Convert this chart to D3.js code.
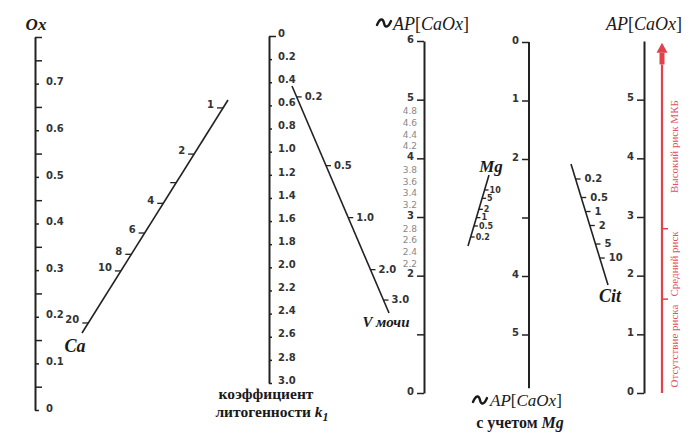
<!DOCTYPE html>
<html>
<head>
<meta charset="utf-8">
<script src="https://cdn.jsdelivr.net/npm/d3@7"></script>
<style>
body{margin:0;background:#fff;}
svg{display:block;}
</style>
</head>
<body>
<div id="nomogram"></div>
<script>
// Ox (left vertical scale)
var oxLabeled = [0, 0.1, 0.2, 0.3, 0.4, 0.5, 0.6, 0.7];
var oxMinor = [0.05, 0.15, 0.25, 0.35, 0.45, 0.55, 0.65, 0.75, 0.8];
// Ca (slanted)
var caValues = [1, 2, 3, 4, 6, 8, 10, 20];
var caLabels = ["1", "2", "", "4", "6", "8", "10", "20"];
// k1 coefficient
var k1Values = [0, 0.2, 0.4, 0.6, 0.8, 1.0, 1.2, 1.4, 1.6, 1.8, 2.0, 2.2, 2.4, 2.6, 2.8, 3.0];
// V urine (slanted)
var vValues = [0.2, 0.5, 1.0, 2.0, 3.0];
// ~AP[CaOx]
var apValues = [0, 1, 2, 3, 4, 5, 6];
var apLabels = ["0", "", "2", "3", "4", "5", "6"];
var apSubLabels = [2.2, 2.4, 2.6, 2.8, 3.2, 3.4, 3.6, 3.8, 4.2, 4.4, 4.6, 4.8];
// Mg (slanted)
var mgValues = [0.2, 0.5, 1, 2, 5, 10];
// ~AP[CaOx] with Mg
var apMgValues = [0, 1, 2, 3, 4, 5];
var apMgLabels = ["0", "1", "2", "", "4", "5"];
// Cit (slanted)
var citValues = [0.2, 0.5, 1, 2, 5, 10];
// AP[CaOx] result + risk zones
var apOutValues = [0, 1, 2, 3, 4, 5];
var riskBounds = [0, 1.6, 2.8, 5.6];
var riskNames = ["Отсутствие риска", "Средний риск", "Высокий риск МКБ"];

var ink = "#222";
var red = "#e2404a";
var sans = "DejaVu Sans, sans-serif";
var serif = "Liberation Serif, serif";

var svg = d3.select("#nomogram").append("svg")
    .attr("width", 700)
    .attr("height", 440);

function styleAxis(g){
    g.style("font-family", sans).attr("font-size", 10).attr("font-weight", "bold");
    g.select(".domain").attr("stroke", ink).attr("stroke-width", 2);
    g.selectAll(".tick line").attr("stroke", ink).attr("stroke-width", 1.5);
    g.selectAll(".tick text").attr("fill", "#333").attr("y", -2);
}

// --- Ox
var yOx = d3.scaleLinear().domain([0, 0.8]).range([410, 37]);
var gOx = svg.append("g")
    .attr("transform", "translate(35,0)")
    .call(d3.axisRight(yOx)
        .tickValues(oxLabeled.concat(oxMinor))
        .tickSize(7).tickSizeOuter(0).tickPadding(4)
        .tickFormat(function(d){ return oxLabeled.indexOf(d) >= 0 ? String(d) : ""; }));
styleAxis(gOx);
gOx.selectAll(".tick line").attr("x2", function(d){ return oxLabeled.indexOf(d) >= 0 ? 4 : 7; });

// --- k1
var yK1 = d3.scaleLinear().domain([0, 3]).range([36, 383]);
var gK1 = svg.append("g")
    .attr("transform", "translate(269,0)")
    .call(d3.axisRight(yK1)
        .tickValues(k1Values)
        .tickSize(3).tickSizeOuter(0).tickPadding(6)
        .tickFormat(function(d){ return d === 0 ? "0" : d3.format(".1f")(d); }));
styleAxis(gK1);
gK1.selectAll(".tick text").attr("y", -3);
gK1.select(".tick line").attr("x2", 7); // top cap

// --- ~AP[CaOx]
var yAp = d3.scaleLinear().domain([0, 6]).range([393, 41]);
var gAp = svg.append("g")
    .attr("transform", "translate(424,0)")
    .call(d3.axisLeft(yAp)
        .tickValues(apValues)
        .tickSize(7).tickSizeOuter(0).tickPadding(3)
        .tickFormat(function(d, i){ return apLabels[i]; }));
styleAxis(gAp);
gAp.selectAll("text.sub")
    .data(apSubLabels)
    .enter()
    .append("text")
    .attr("class", "sub")
    .attr("x", -7)
    .attr("y", function(d){ return yAp(d); })
    .attr("dy", "0.32em")
    .attr("text-anchor", "end")
    .attr("font-size", 9)
    .attr("font-weight", "normal")
    .attr("fill", "#888")
    .text(function(d){ return d3.format(".1f")(d); });

// --- ~AP[CaOx] with Mg
var yApMg = d3.scaleLinear().domain([0, 6]).range([42, 393]);
var gApMg = svg.append("g")
    .attr("transform", "translate(529,0)")
    .call(d3.axisLeft(yApMg)
        .tickValues(apMgValues)
        .tickSize(7).tickSizeOuter(0).tickPadding(3)
        .tickFormat(function(d, i){ return apMgLabels[i]; }));
styleAxis(gApMg);
gApMg.select(".domain").attr("d", "M0," + yApMg(0) + "V" + yApMg(5.92));

// --- AP[CaOx] result
var yOut = d3.scaleLinear().domain([0, 6]).range([393, 41]);
var gOut = svg.append("g")
    .attr("transform", "translate(644,0)")
    .call(d3.axisLeft(yOut)
        .tickValues(apOutValues)
        .tickSize(7).tickSizeOuter(0).tickPadding(3)
        .tickFormat(d3.format("d")));
styleAxis(gOut);

// slanted scales (value -> fraction along the segment p0..p1)
function slantScale(cfg){
    var g = svg.append("g");
    var dx = cfg.p1[0] - cfg.p0[0], dy = cfg.p1[1] - cfg.p0[1];
    function pt(v){
        var t = cfg.scale(v);
        return [cfg.p0[0] + dx * t, cfg.p0[1] + dy * t];
    }
    g.append("line")
        .attr("x1", cfg.p0[0]).attr("y1", cfg.p0[1])
        .attr("x2", cfg.p1[0]).attr("y2", cfg.p1[1])
        .attr("stroke", ink)
        .attr("stroke-width", 1.6);
    var $3ticks = g.selectAll("g.st")
        .data(cfg.values)
        .enter()
        .append("g")
        .attr("class", "st")
        .attr("transform", function(d){ return "translate(" + pt(d) + ")"; });
    $3ticks.append("line")
        .attr("x2", cfg.side * cfg.tick)
        .attr("stroke", ink)
        .attr("stroke-width", 1.3);
    $3ticks.append("text")
        .attr("x", cfg.side * cfg.gap)
        .attr("y", cfg.dy)
        .attr("dy", "0.32em")
        .attr("text-anchor", cfg.side < 0 ? "end" : "start")
        .style("font-family", sans)
        .attr("font-size", cfg.fontSize)
        .attr("font-weight", "bold")
        .attr("fill", "#333")
        .text(function(d, i){ return cfg.labels ? cfg.labels[i] : String(d); });
    return g;
}

slantScale({
    p0: [228, 100], p1: [82, 333],
    scale: d3.scaleSymlog().constant(0.2).domain([1, 20]).range([0.034, 0.957]),
    values: caValues, labels: caLabels,
    side: -1, tick: 6, gap: 9, dy: -3, fontSize: 10
});
slantScale({
    p0: [292, 86], p1: [389, 313],
    scale: d3.scaleLog().domain([0.2, 3]).range([0.048, 0.943]),
    values: vValues, labels: vValues.map(d3.format(".1f")),
    side: 1, tick: 5, gap: 8, dy: 0, fontSize: 10
});
slantScale({
    p0: [489, 175], p1: [468, 246],
    scale: d3.scaleLog().domain([10, 0.2]).range([0.211, 0.873]),
    values: mgValues,
    side: 1, tick: 4, gap: 5, dy: 0, fontSize: 8
});
slantScale({
    p0: [571, 164], p1: [608, 285],
    scale: d3.scaleLog().domain([0.2, 10]).range([0.124, 0.777]),
    values: citValues,
    side: 1, tick: 5, gap: 9, dy: 0, fontSize: 10
});

// risk arrow
var riskX = 662;
svg.append("line")
    .attr("x1", riskX).attr("x2", riskX)
    .attr("y1", yOut(0)).attr("y2", yOut(5.6))
    .attr("stroke", red).attr("stroke-width", 2.2);
svg.append("rect")
    .attr("x", riskX - 2.5).attr("width", 5)
    .attr("y", yOut(5.8)).attr("height", yOut(5.6) - yOut(5.8))
    .attr("fill", red);
svg.append("path")
    .attr("d", "M" + (riskX - 5.5) + "," + yOut(5.8) + "L" + riskX + "," + yOut(5.97) + "L" + (riskX + 5.5) + "," + yOut(5.8) + "Z")
    .attr("fill", red);
svg.selectAll("line.rb")
    .data(riskBounds.slice(1, 3))
    .enter()
    .append("line")
    .attr("class", "rb")
    .attr("x1", riskX).attr("x2", riskX + 6)
    .attr("y1", function(d){ return yOut(d); })
    .attr("y2", function(d){ return yOut(d); })
    .attr("stroke", red).attr("stroke-width", 1.5);
svg.selectAll("text.risk")
    .data(riskNames)
    .enter()
    .append("text")
    .attr("class", "risk")
    .attr("transform", function(d, i){
        var yc = yOut((riskBounds[i] + riskBounds[i + 1]) / 2);
        return "translate(674," + yc + ") rotate(-90)";
    })
    .attr("text-anchor", "middle")
    .attr("dy", "0.35em")
    .style("font-family", serif)
    .attr("font-size", 11)
    .attr("fill", "#e0505e")
    .text(function(d){ return d; });

// titles; the wave mark is drawn as a small path
function wave(x, y){
    svg.append("path")
        .attr("d", "M" + x + "," + (y + 2) + "c3,-7 6,-7 7,-2 s4,5 7,-2")
        .attr("fill", "none")
        .attr("stroke", "#1a1a1a")
        .attr("stroke-width", 2.4)
        .attr("stroke-linecap", "round");
}
function apTitle(x, y, size){
    var t = svg.append("text")
        .attr("x", x).attr("y", y)
        .style("font-family", serif)
        .attr("font-size", size)
        .attr("fill", "#1a1a1a");
    t.append("tspan").attr("font-style", "italic").text("AP");
    t.append("tspan").text("[");
    t.append("tspan").attr("font-style", "italic").text("CaOx");
    t.append("tspan").text("]");
    return t;
}
wave(377, 23);
apTitle(393, 30, 18);
apTitle(606, 30, 18);
wave(473, 400);
apTitle(490, 406, 17);

var mgSub = svg.append("text")
    .attr("x", 520).attr("y", 428)
    .attr("text-anchor", "middle")
    .style("font-family", serif)
    .attr("font-size", 16).attr("font-weight", "bold")
    .attr("fill", "#1a1a1a");
mgSub.append("tspan").text("с учетом ");
mgSub.append("tspan").attr("font-style", "italic").text("Mg");

svg.append("text")
    .attr("x", 266).attr("y", 399)
    .attr("text-anchor", "middle")
    .style("font-family", serif)
    .attr("font-size", 15.5).attr("font-weight", "bold")
    .attr("fill", "#1a1a1a")
    .text("коэффициент");
var k1Name = svg.append("text")
    .attr("x", 272).attr("y", 417)
    .attr("text-anchor", "middle")
    .style("font-family", serif)
    .attr("font-size", 15.5).attr("font-weight", "bold")
    .attr("fill", "#1a1a1a");
k1Name.append("tspan").text("литогенности ");
k1Name.append("tspan").attr("font-style", "italic").text("k");
k1Name.append("tspan").attr("font-style", "italic").attr("font-size", 12).attr("dy", 4).text("1");

// italic scale names
var names = [
    {t: "Ox", x: 36, y: 30, s: 17},
    {t: "Ca", x: 75, y: 352, s: 18},
    {t: "V мочи", x: 386, y: 327, s: 15},
    {t: "Mg", x: 491, y: 172, s: 17},
    {t: "Cit", x: 610, y: 302, s: 18}
];
svg.selectAll("text.name")
    .data(names)
    .enter()
    .append("text")
    .attr("class", "name")
    .attr("x", function(d){ return d.x; })
    .attr("y", function(d){ return d.y; })
    .attr("text-anchor", "middle")
    .style("font-family", serif)
    .attr("font-style", "italic")
    .attr("font-weight", "bold")
    .attr("font-size", function(d){ return d.s; })
    .attr("fill", "#1a1a1a")
    .text(function(d){ return d.t; });
</script>
</body>
</html>
